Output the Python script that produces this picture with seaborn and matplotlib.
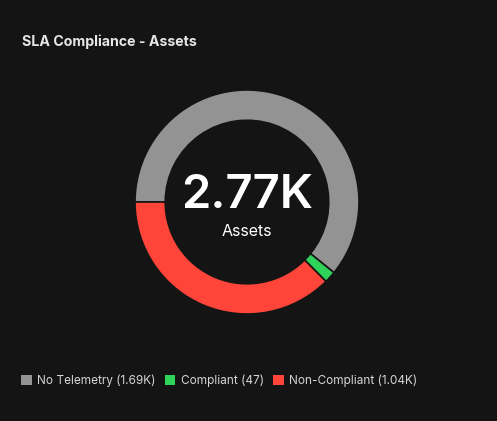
import matplotlib
matplotlib.use('Agg')
import matplotlib.pyplot as plt
import matplotlib.patches as mpatches
import seaborn as sns

# data
categories = ['No Telemetry', 'Compliant', 'Non-Compliant']
values = [1690, 47, 1040]
value_labels = ['1.69K', '47', '1.04K']
colors = ['#939393', '#2fd35a', '#ff4539']
total_label = '2.77K'
center_caption = 'Assets'
title = 'SLA Compliance - Assets'

bg = '#141414'

sns.set_theme(style='dark')
plt.rcParams['font.family'] = ['Inter', 'DejaVu Sans']

fig = plt.figure(figsize=(4.97, 4.21), dpi=100, facecolor=bg)

# donut centred at (247, 202) px, outer radius ~112 px
W, H = 497, 421
cx, cy, r = 247, 202, 112
ax = fig.add_axes([(cx - r) / W, (H - cy - r) / H, 2 * r / W, 2 * r / H])
ax.set_facecolor(bg)
ax.pie(values, colors=colors, startangle=180, counterclock=False, radius=1,
       wedgeprops=dict(width=0.27, edgecolor=bg, linewidth=1.2))
ax.set_xlim(-1, 1)
ax.set_ylim(-1, 1)
ax.set_aspect('equal')
ax.axis('off')

ax.text(0, 0.05, total_label, ha='center', va='center', color='white',
        fontsize=34, fontweight='semibold')
ax.text(0, -0.26, center_caption, ha='center', va='center', color='white',
        fontsize=11.5)

fig.text(22 / W, 1 - 42 / H, title, ha='left', va='center', color='#e6e6e6',
         fontsize=10.2, fontweight='bold')

handles = [mpatches.Patch(facecolor=c, edgecolor='none') for c in colors]
labels = [f'{c} ({v})' for c, v in zip(categories, value_labels)]
fig.legend(handles, labels, loc='center left', bbox_to_anchor=(21 / W, 1 - 381 / H),
           ncol=3, frameon=False, handlelength=0.9, handleheight=0.9,
           handletextpad=0.45, columnspacing=0.8, borderpad=0, borderaxespad=0,
           labelcolor='#d6d6d6', fontsize=8.5)

fig.savefig('out.png', dpi=100, facecolor=bg)
